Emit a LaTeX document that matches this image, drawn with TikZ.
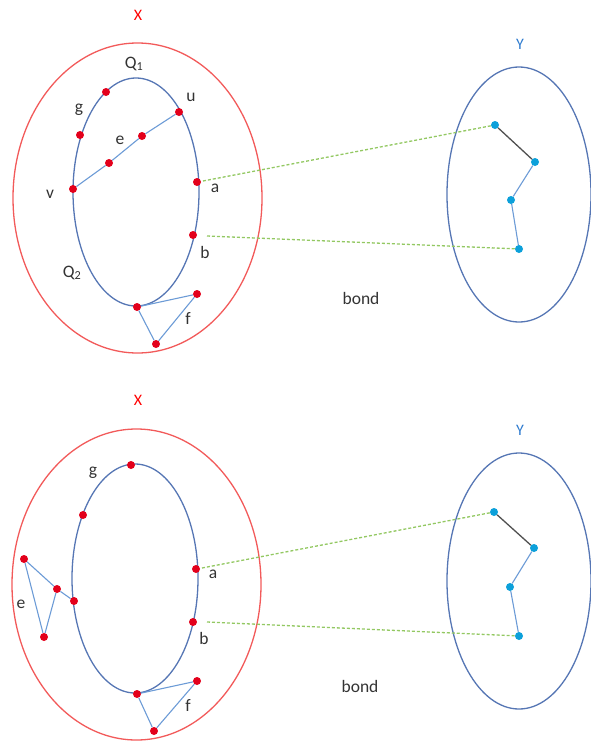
\documentclass[tikz,border=0pt]{standalone}
\usepackage{fontspec}
\setmainfont{Carlito}
\usetikzlibrary{shapes.geometric}
\definecolor{xred}{HTML}{F25A5A}
\definecolor{dotred}{HTML}{E3001B}
\definecolor{ell}{HTML}{5676B4}
\definecolor{edge}{HTML}{6C9BD6}
\definecolor{cyandot}{HTML}{0CA0DA}
\definecolor{ylab}{HTML}{2E7BCF}
\definecolor{gdash}{HTML}{93C862}
\definecolor{darkedge}{HTML}{505050}
\tikzset{
  rdot/.style={circle,fill=dotred,inner sep=0pt,minimum size=8pt},
  cdot/.style={circle,fill=cyandot,inner sep=0pt,minimum size=8pt},
  lab/.style={font=\fontsize{17.5}{17.5}\selectfont,text=black!80,inner sep=0pt},
  xlab/.style={font=\fontsize{16}{16}\selectfont,text=red,inner sep=0pt},
  ylabel/.style={font=\fontsize{16}{16}\selectfont,text=ylab,inner sep=0pt},
  outer/.style={ellipse,draw=xred,line width=1.3pt,inner sep=0pt},
  inner/.style={ellipse,draw=ell,line width=1.3pt,inner sep=0pt},
  yell/.style={ellipse,draw=ell,line width=1.3pt,inner sep=0pt},
  bedge/.style={draw=edge,line width=1.1pt},
  kedge/.style={draw=darkedge,line width=1.3pt},
  gline/.style={draw=gdash,line width=1.3pt,dash pattern=on 3pt off 2pt}
}
\begin{document}
\begin{tikzpicture}[x=1pt,y=-1pt]
\useasboundingbox (0,0) rectangle (591,742);
% ================= TOP PANEL =================
\node[xlab] (X1) at (138,15) {X};
\node[outer,minimum width=249pt,minimum height=310pt] (OX1) at (137.5,198) {};
\node[inner,minimum width=126pt,minimum height=228pt] (IX1) at (136,192) {};
\node[ylabel] (Y1) at (520,44) {Y};
\node[yell,minimum width=144pt,minimum height=255pt] (OY1) at (519,194.5) {};
% dots
\node[rdot] (tg1) at (106,92) {};
\node[rdot] (tu) at (179,112) {};
\node[rdot] (tg2) at (80,135) {};
\node[rdot] (te2) at (142,136) {};
\node[rdot] (te1) at (109,163) {};
\node[rdot] (tv) at (73,189) {};
\node[rdot] (ta) at (197,182) {};
\node[rdot] (tb) at (193,235) {};
\node[rdot] (tbot) at (137,307) {};
\node[rdot] (tfr) at (197,294) {};
\node[rdot] (tfb) at (156,344) {};
% labels
\node[lab] (tQ1) at (134,64) {Q\textsubscript{1}};
\node[lab] (tlg) at (79,110) {g};
\node[lab] (tlu) at (191,97) {u};
\node[lab] (tle) at (120,140) {e};
\node[lab] (tlv) at (50,194) {v};
\node[lab] (tla) at (215,188) {a};
\node[lab] (tlb) at (205,252) {b};
\node[lab] (tQ2) at (72,273) {Q\textsubscript{2}};
\node[lab] (tlf) at (188,318) {f};
\node[lab] (tbond) at (361,298) {bond};
% edges
\draw[bedge] (tv) -- (te1) -- (te2) -- (tu);
\draw[bedge] (tbot) -- (tfr) -- (tfb) -- (tbot);
% Y dots
\node[cdot] (ty1) at (495,125) {};
\node[cdot] (ty2) at (535,162) {};
\node[cdot] (ty3) at (511,200) {};
\node[cdot] (ty4) at (519,249) {};
\draw[kedge] (ty1) -- (ty2);
\draw[bedge] (ty2) -- (ty3) -- (ty4);
% green dashed
\coordinate (tas) at (203,181);
\coordinate (tbs) at (207,236);
\draw[gline] (tas) -- (ty1);
\draw[gline] (tbs) -- (ty4);
% ================= BOTTOM PANEL =================
\node[xlab] (X2) at (138,400) {X};
\node[outer,minimum width=249pt,minimum height=311pt] (OX2) at (136.5,584.5) {};
\node[inner,minimum width=126pt,minimum height=229pt] (IX2) at (135,578.5) {};
\node[ylabel] (Y2) at (520,430) {Y};
\node[yell,minimum width=144pt,minimum height=256pt] (OY2) at (519,581) {};
% dots
\node[rdot] (btop) at (131,465) {};
\node[rdot] (bg) at (83,515) {};
\node[rdot] (ba) at (196,569) {};
\node[rdot] (bb) at (193,622) {};
\node[rdot] (bleft) at (74,601) {};
\node[rdot] (bem) at (57,589) {};
\node[rdot] (bet) at (24,559) {};
\node[rdot] (beb) at (44,637) {};
\node[rdot] (bbot) at (137,694) {};
\node[rdot] (bfr) at (197,681) {};
\node[rdot] (bfb) at (154,731) {};
% labels
\node[lab] (blg) at (93,473) {g};
\node[lab] (bla) at (213,574) {a};
\node[lab] (blb) at (204,638) {b};
\node[lab] (ble) at (21,604) {e};
\node[lab] (blf) at (188,705) {f};
\node[lab] (bbond) at (360,686) {bond};
% edges
\draw[bedge] (bet) -- (bem) -- (bleft);
\draw[bedge] (bet) -- (beb) -- (bem);
\draw[bedge] (bbot) -- (bfr) -- (bfb) -- (bbot);
% Y dots
\node[cdot] (by1) at (494,512) {};
\node[cdot] (by2) at (534,548) {};
\node[cdot] (by3) at (510,587) {};
\node[cdot] (by4) at (519,636) {};
\draw[kedge] (by1) -- (by2);
\draw[bedge] (by2) -- (by3) -- (by4);
\coordinate (bas) at (202,568);
\coordinate (bbs) at (207,622);
\draw[gline] (bas) -- (by1);
\draw[gline] (bbs) -- (by4);
\end{tikzpicture}
\end{document}
